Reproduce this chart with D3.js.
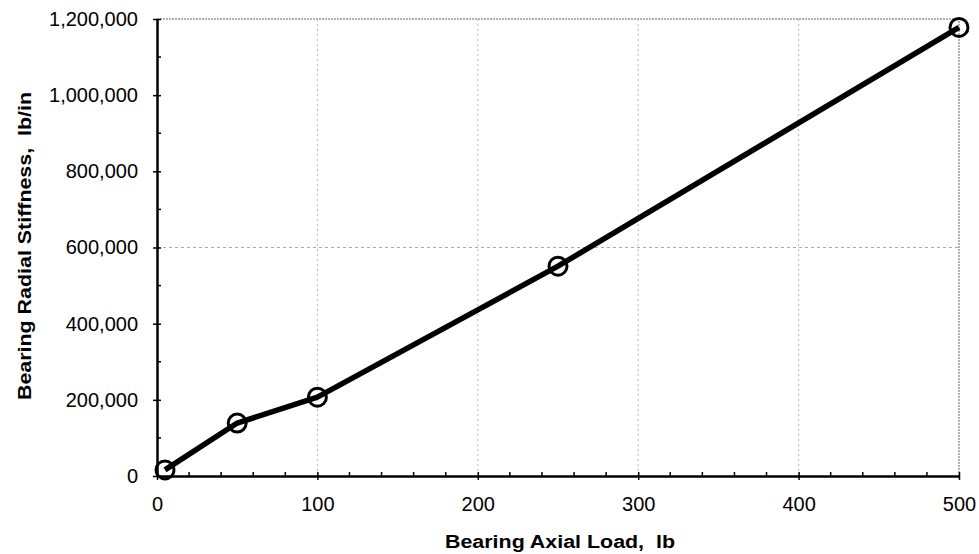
<!DOCTYPE html>
<html>
<head>
<meta charset="utf-8">
<script src="https://cdn.jsdelivr.net/npm/d3@7"></script>
<style>
  body { margin: 0; background: #fff; }
  svg { font-family: "Liberation Sans", Arial, sans-serif; }
</style>
</head>
<body>
<div class="container"></div>
<script>
var axialLoad = [5, 50, 100, 250, 500];
var radialStiffness = [16000, 139000, 207000, 551000, 1178000];
var xTicks = [0, 100, 200, 300, 400, 500];
var yTicks = [0, 200000, 400000, 600000, 800000, 1000000, 1200000];
var xGrid = [100, 200, 300, 400];
var yGrid = [600000];

var drawChart = function () {
    const WIDTH = 979;
    const HEIGHT = 554;
    var margin = { left: 157, right: 20, top: 19, bottom: 78 };

    var svg = d3.select('.container')
        .append('svg')
        .attr('width', WIDTH)
        .attr('height', HEIGHT);

    var x = d3.scaleLinear().domain([0, 500]).range([margin.left, WIDTH - margin.right]);
    var y = d3.scaleLinear().domain([0, 1200000]).range([HEIGHT - margin.bottom, margin.top]);

    // faint dotted gridlines
    var grid = svg.append('g');
    grid.selectAll('.vg')
        .data(xGrid)
        .enter()
        .append('line')
        .attr('x1', d => x(d)).attr('x2', d => x(d))
        .attr('y1', y(0)).attr('y2', y(1200000))
        .style('stroke', '#b8b8b8')
        .style('stroke-width', 1)
        .style('stroke-dasharray', '2,3');
    grid.selectAll('.hg')
        .data(yGrid)
        .enter()
        .append('line')
        .attr('x1', x(0)).attr('x2', x(500))
        .attr('y1', d => y(d)).attr('y2', d => y(d))
        .style('stroke', '#aaa')
        .style('stroke-width', 1)
        .style('stroke-dasharray', '3,3');

    // top and right border
    grid.append('path')
        .attr('d', 'M' + x(0) + ',' + y(1200000) + 'H' + x(500) + 'V' + y(0))
        .style('fill', 'none')
        .style('stroke', '#999')
        .style('stroke-width', 1.5)
        .style('stroke-dasharray', '2,1');

    // minor ticks
    var minorX = d3.range(0, 501, 20).filter(d => d % 100 !== 0);
    svg.append('g').selectAll('line')
        .data(minorX)
        .enter()
        .append('line')
        .attr('x1', d => x(d)).attr('x2', d => x(d))
        .attr('y1', y(0)).attr('y2', y(0) - 4)
        .style('stroke', '#000')
        .style('stroke-width', 1.5);
    var minorY = d3.range(100000, 1200000, 200000);
    svg.append('g').selectAll('line')
        .data(minorY)
        .enter()
        .append('line')
        .attr('x1', x(0)).attr('x2', x(0) + 4)
        .attr('y1', d => y(d)).attr('y2', d => y(d))
        .style('stroke', '#000')
        .style('stroke-width', 1.5);

    // axes
    var xAxis = svg.append('g')
        .attr('transform', 'translate(0,' + y(0) + ')')
        .call(d3.axisBottom(x).tickValues(xTicks).tickSize(4).tickSizeOuter(0).tickPadding(17));
    xAxis.select('.domain').style('stroke-width', 2.5);
    xAxis.selectAll('.tick line').attr('y1', -4).style('stroke-width', 1.5);
    xAxis.selectAll('text').style('font-size', '20px').style('fill', '#000');

    var yAxis = svg.append('g')
        .attr('transform', 'translate(' + x(0) + ',0)')
        .call(d3.axisLeft(y).tickValues(yTicks).tickSize(4).tickSizeOuter(0).tickPadding(15)
            .tickFormat(d3.format(',')));
    yAxis.select('.domain').style('stroke-width', 2.5);
    yAxis.selectAll('.tick line').attr('x1', 4).attr('x2', -4).style('stroke-width', 1.5);
    yAxis.selectAll('text').style('font-size', '20px').style('fill', '#000');

    // axis titles
    svg.append('text')
        .attr('x', 560)
        .attr('y', 548)
        .attr('text-anchor', 'middle')
        .attr('textLength', 230)
        .attr('lengthAdjust', 'spacingAndGlyphs')
        .style('font-size', '18px')
        .style('font-weight', 'bold')
        .style('white-space', 'pre')
        .text('Bearing Axial Load,  lb');

    svg.append('text')
        .attr('transform', 'translate(31,246) rotate(-90)')
        .attr('text-anchor', 'middle')
        .attr('textLength', 308)
        .attr('lengthAdjust', 'spacingAndGlyphs')
        .style('font-size', '18px')
        .style('font-weight', 'bold')
        .style('white-space', 'pre')
        .text('Bearing Radial Stiffness,  lb/in');

    // data line and markers
    var pts = axialLoad.map((d, i) => [d, radialStiffness[i]]);
    var line = d3.line().x(d => x(d[0])).y(d => y(d[1]));

    svg.append('path')
        .datum(pts)
        .attr('d', line)
        .style('fill', 'none')
        .style('stroke', '#000')
        .style('stroke-width', 5.5)
        .style('stroke-linejoin', 'round');

    svg.append('g').selectAll('circle')
        .data(pts)
        .enter()
        .append('circle')
        .attr('cx', d => x(d[0]))
        .attr('cy', d => y(d[1]))
        .attr('r', 9)
        .style('fill', 'none')
        .style('stroke', '#000')
        .style('stroke-width', 3);
};
window.onload = drawChart;
</script>
</body>
</html>
